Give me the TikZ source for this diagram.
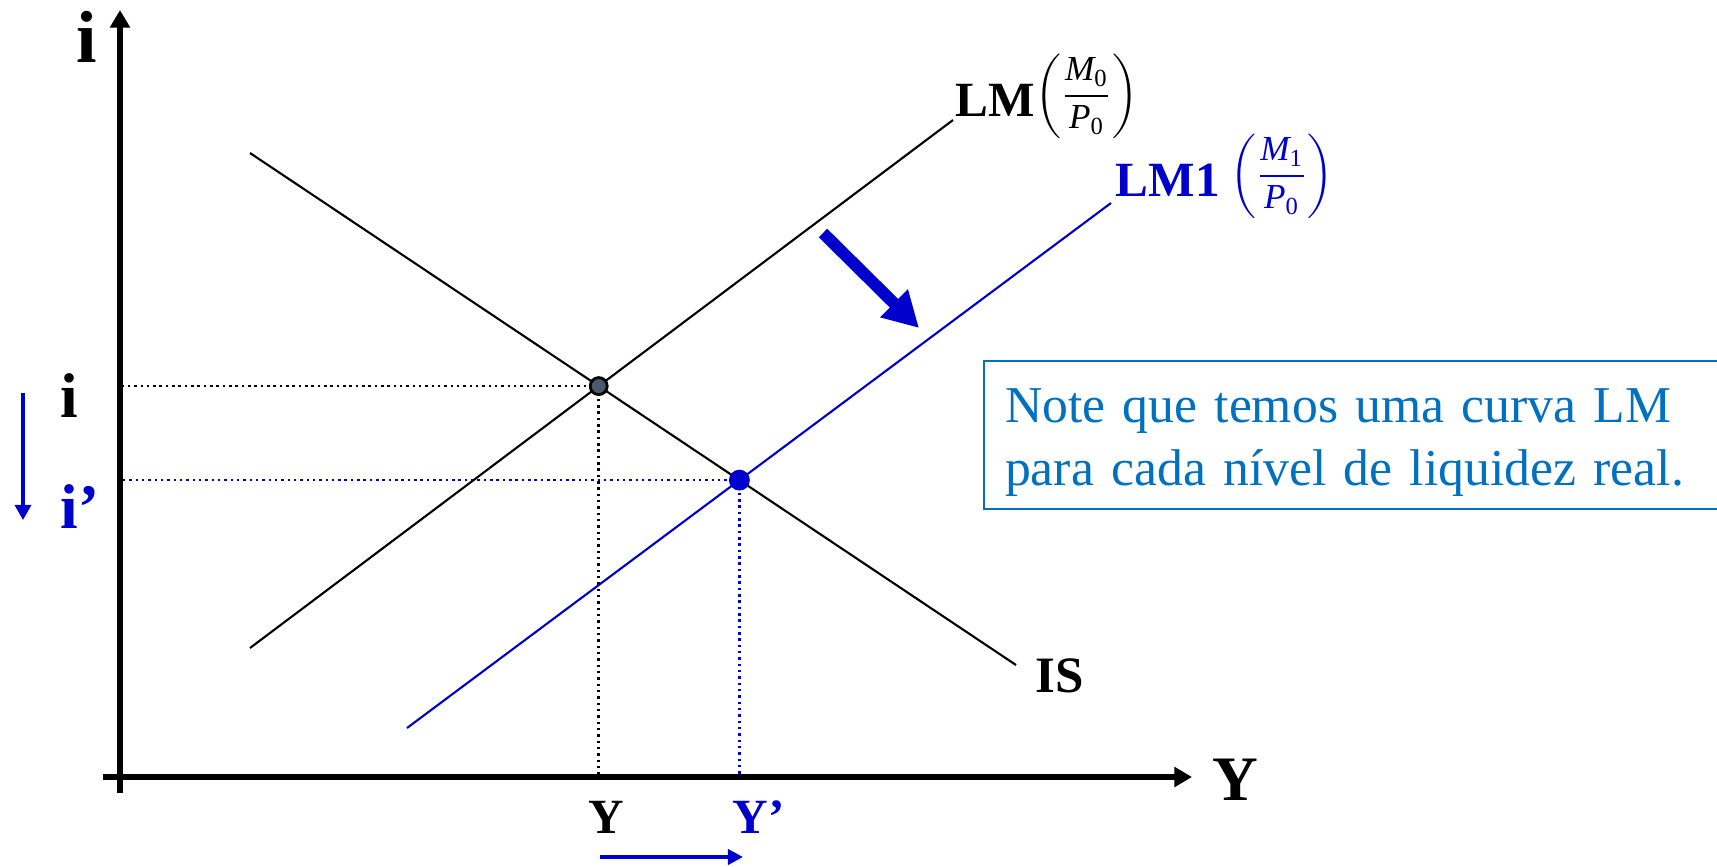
\documentclass[tikz,border=0pt]{standalone}
\usepackage{amsmath}
\usepackage{fontspec}
\setmainfont{Liberation Serif}
\usetikzlibrary{arrows.meta}
\definecolor{shiftblue}{HTML}{0000CC}
\definecolor{noteblue}{HTML}{0070C0}
\definecolor{slate}{HTML}{4A5A6E}
\newcommand{\realbal}[2]{\raisebox{3.2pt}{$\left(\dfrac{\text{\itshape M}_{\text{#1}}}{\text{\itshape P}_{\text{#2}}}\right)$}}

\begin{document}
\begin{tikzpicture}[x=0.01cm,y=-0.01cm,
  axis/.style={line width=1.8pt,-{Triangle[length=5pt,width=5.5pt]}},
  curve/.style={line width=0.6pt},
  guide/.style={line width=0.7pt,dash pattern=on 0.7pt off 1.1pt},
  dot/.style={circle,inner sep=0pt,minimum size=0.17cm,line width=0.8pt},
  tag/.style={inner sep=0pt,anchor=base west,font=\bfseries\fontsize{15}{18}\selectfont}]
\useasboundingbox (0,0) rectangle (1717,866);

% axes
\coordinate (O) at (120,777);
\coordinate (ytop) at (120,10);
\coordinate (ybot) at (120,793);
\coordinate (xleft) at (103,777);
\coordinate (xright) at (1192,777);
\draw[axis] (ybot) -- (ytop);
\draw[axis] (xleft) -- (xright);

% curves
\coordinate (lm0a) at (250,648);  \coordinate (lm0b) at (953,120);
\coordinate (isa) at (250,153);   \coordinate (isb) at (1016,665);
\coordinate (lm1a) at (407,728);  \coordinate (lm1b) at (1111,203);
\coordinate (e0) at (intersection of lm0a--lm0b and isa--isb);
\coordinate (e1) at (intersection of lm1a--lm1b and isa--isb);

\draw[guide] (e0) -- (e0 -| O);
\draw[guide] (e0) -- (e0 |- O);
\draw[guide,shiftblue] (e1) -- (e1 -| O);
\draw[guide,shiftblue] (e1) -- (e1 |- O);

\draw[curve] (lm0a) -- (lm0b);
\draw[curve] (isa) -- (isb);
\draw[curve,shiftblue] (lm1a) -- (lm1b);

\node[dot,draw=black,fill=slate] (eq0) at (e0) {};
\node[dot,draw=shiftblue,fill=shiftblue,minimum size=0.18cm] (eq1) at (e1) {};

% labels
\node[tag,font=\bfseries\fontsize{21}{24}\selectfont] (ilabel) at (76,62) {i};
\node[tag,font=\bfseries\fontsize{18}{21}\selectfont] (Ylabel) at (1212,800) {Y};
\node[tag,font=\bfseries\fontsize{18}{21}\selectfont] (i0) at (60,417) {i};
\node[tag,font=\bfseries\fontsize{18}{21}\selectfont,shiftblue] (i1) at (60,528) {i’};
\node[tag,font=\bfseries\fontsize{14}{17}\selectfont] (y0) at (588,833) {Y};
\node[tag,font=\bfseries\fontsize{14}{17}\selectfont,shiftblue] (y1) at (732,833) {Y’};
\node[tag,font=\bfseries\fontsize{14.5}{17}\selectfont] (islabel) at (1035,692) {IS};
\node[tag,font=\bfseries\fontsize{14}{17}\selectfont] (lm0label) at (955,116)
  {LM{\mdseries\fontsize{10}{12}\selectfont\realbal{0}{0}}};
\node[tag,font=\bfseries\fontsize{14}{17}\selectfont,shiftblue] (lm1label) at (1115,196)
  {LM1\hspace{3pt}{\mdseries\fontsize{10}{12}\selectfont\realbal{1}{0}}};

% shifts
\coordinate (shiftfrom) at (823,233);
\coordinate (shiftto) at (919,328);
\draw[shiftblue,line width=3.4pt,-{Triangle[length=10pt,width=10.5pt]}] (shiftfrom) -- (shiftto);
\coordinate (idropfrom) at (23,393);
\coordinate (idropto) at (23,520);
\draw[shiftblue,line width=0.9pt,-{Triangle[length=4.3pt,width=4.6pt]}] (idropfrom) -- (idropto);
\coordinate (yrisefrom) at (600,857);
\coordinate (yriseto) at (743,857);
\draw[shiftblue,line width=1.1pt,-{Triangle[length=4.3pt,width=4.3pt]}] (yrisefrom) -- (yriseto);

% note
\node[draw=noteblue,line width=0.6pt,text=noteblue,anchor=north west,
  minimum height=1.48cm,text width=6.97cm,inner xsep=0.21cm,
  align=left,font=\fontsize{14.7}{17.9}\selectfont] (note) at (983,360)
  {\rule{0pt}{14.1pt}Note que temos uma curva LM\\para cada nível de liquidez real.};
\end{tikzpicture}
\end{document}
